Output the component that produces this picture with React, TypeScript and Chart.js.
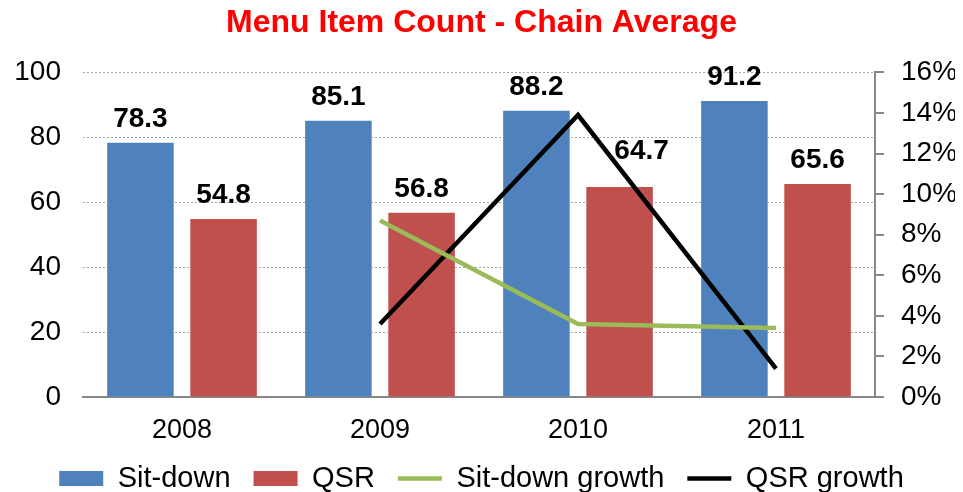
import React, { useEffect, useRef } from "react";
import { Chart, registerables } from "chart.js";

Chart.register(...registerables);

const categories = ["2008", "2009", "2010", "2011"];
const sitDown = [78.3, 85.1, 88.2, 91.2];
const qsr = [54.8, 56.8, 64.7, 65.6];
const sitDownGrowth = [null, 8.7, 3.6, 3.4];
const qsrGrowth = [null, 3.6, 13.9, 1.4];
const leftMax = 100;
const leftStep = 20;
const rightMax = 16;
const rightStep = 2;

const FONT = "'Liberation Sans', Arial, Helvetica, sans-serif";

// manual label nudges (dataset index, data index) -> [dx, dy] in px, as in the original
const labelNudge: Record<string, [number, number]> = { "1-2": [22, -12] };

const barLabels = {
  id: "barLabels",
  afterDatasetsDraw(chart: any) {
    const ctx = chart.ctx;
    ctx.save();
    ctx.font = `bold 28px ${FONT}`;
    ctx.fillStyle = "#000";
    ctx.textAlign = "center";
    ctx.textBaseline = "alphabetic";
    chart.data.datasets.forEach((ds: any, i: number) => {
      if (ds.type !== "bar") return;
      const meta = chart.getDatasetMeta(i);
      meta.data.forEach((el: any, j: number) => {
        const n = labelNudge[`${i}-${j}`] || [0, 0];
        ctx.fillText(String(ds.data[j]), el.x + n[0], el.y - 16 + n[1]);
      });
    });
    ctx.restore();
  },
};

export default function App() {
  const ref = useRef<HTMLCanvasElement>(null);

  useEffect(() => {
    if (!ref.current) return;
    Chart.defaults.font.family = FONT;
    const lineCommon = {
      type: "line",
      borderWidth: 4.5,
      pointRadius: 0,
      pointHoverRadius: 0,
      pointBorderWidth: 4.5,
      tension: 0,
      yAxisID: "yR",
      order: 0,
      pointStyle: "line",
    };
    const chart = new Chart(ref.current, {
      type: "bar",
      data: {
        labels: categories,
        datasets: [
          {
            type: "bar",
            label: "Sit-down",
            data: sitDown,
            backgroundColor: "#4F81BD",
            borderColor: "#4F81BD",
            borderWidth: 0,
            yAxisID: "y",
            order: 1,
            pointStyle: "rect",
            categoryPercentage: 0.84,
            barPercentage: 0.8,
          },
          {
            type: "bar",
            label: "QSR",
            data: qsr,
            backgroundColor: "#C0504D",
            borderColor: "#C0504D",
            borderWidth: 0,
            yAxisID: "y",
            order: 1,
            pointStyle: "rect",
            categoryPercentage: 0.84,
            barPercentage: 0.8,
          },
          {
            ...lineCommon,
            label: "Sit-down growth",
            data: sitDownGrowth,
            borderColor: "#9BBB59",
            backgroundColor: "#9BBB59",
            pointBorderColor: "#9BBB59",
            pointBackgroundColor: "#9BBB59",
          },
          {
            ...lineCommon,
            label: "QSR growth",
            data: qsrGrowth,
            borderColor: "#000000",
            backgroundColor: "#000000",
            pointBorderColor: "#000000",
            pointBackgroundColor: "#000000",
          },
        ] as any,
      },
      options: {
        responsive: false,
        animation: false,
        layout: { padding: { top: -4, bottom: -11, left: 0, right: 0 } },
        plugins: {
          title: {
            display: true,
            text: "Menu Item Count - Chain Average",
            color: "#FF0000",
            font: { size: 32, weight: "bold", family: FONT },
            padding: { top: 0, bottom: 30 },
          },
          legend: {
            display: true,
            position: "bottom",
            labels: {
              usePointStyle: true,
              pointStyleWidth: 44,
              boxHeight: 15,
              padding: 23,
              color: "#000",
              font: { size: 29, family: FONT },
              sort: (a: any, b: any) => a.datasetIndex - b.datasetIndex,
            },
          },
          tooltip: { enabled: false },
        },
        scales: {
          x: {
            grid: { display: true, drawOnChartArea: false, drawTicks: false },
            border: { display: true, color: "#888888", width: 2 },
            ticks: { color: "#000", font: { size: 27, family: FONT }, padding: 17 },
            afterFit: (s: any) => {
              s.height = 44;
            },
          },
          y: {
            position: "left",
            min: 0,
            max: leftMax,
            ticks: {
              stepSize: leftStep,
              color: "#000",
              font: { size: 28, family: FONT },
              padding: 22,
            },
            grid: { color: "#a6a6a6", lineWidth: 1, drawTicks: false },
            border: { display: false, dash: [2, 2] },
            afterFit: (s: any) => {
              s.width = 75;
            },
          },
          yR: {
            position: "right",
            min: 0,
            max: rightMax,
            ticks: {
              stepSize: rightStep,
              color: "#000",
              font: { size: 28, family: FONT },
              padding: 17,
              callback: (v: any) => v + "%",
            },
            grid: {
              drawOnChartArea: false,
              drawTicks: true,
              tickLength: 9,
              color: "#888888",
              lineWidth: 2,
            },
            border: { display: true, color: "#888888", width: 2 },
            afterFit: (s: any) => {
              s.width = 80;
            },
          },
        },
      } as any,
      plugins: [barLabels],
    });
    return () => chart.destroy();
  }, []);

  return (
    <div style={{ width: 947, height: 484 }}>
      <canvas ref={ref} width={947} height={484} />
    </div>
  );
}
